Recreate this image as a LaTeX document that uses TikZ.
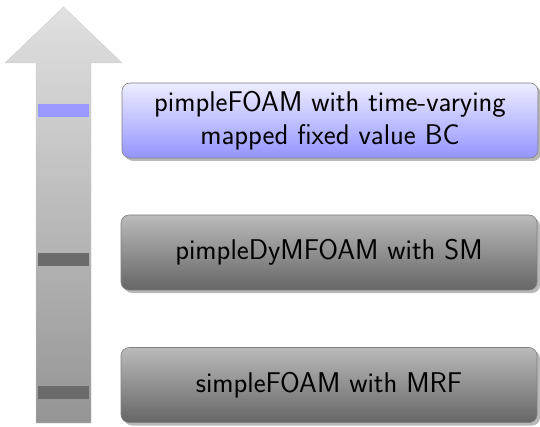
\documentclass[tikz,border=0pt]{standalone}
\usetikzlibrary{shadows}
\begin{document}
\begin{tikzpicture}[x=1pt,y=-1pt,
  stagebox/.style={draw=black!50, line width=0.6pt, rounded corners=8pt,
    minimum width=416pt, minimum height=75pt, align=center,
    font=\sffamily\fontsize{28.5}{33}\selectfont, text=black,
    drop shadow={shadow xshift=3pt, shadow yshift=-3pt, fill=black!28, opacity=1}},
  graybox/.style={stagebox, top color=black!27, bottom color=black!60},
  bluebox/.style={stagebox, top color=blue!7, bottom color=blue!42},
  band/.style={draw=none, inner sep=0pt, minimum width=51pt, minimum height=13pt}]
\useasboundingbox (0,0) rectangle (540,427);
\shade[top color=black!12, bottom color=black!42, draw=white!80!black, line width=0.4pt]
  (36,423) -- (36,63) -- (5,63) -- (63.5,7) -- (122,63) -- (91,63) -- (91,423) -- cycle;
\node[band, fill=blue!40] (b1) at (63.5,111) {};
\node[band, fill=black!58] (b2) at (63.5,259.5) {};
\node[band, fill=black!58] (b3) at (63.5,392) {};
\node[bluebox] (n1) at (330,120.5) {pimpleFOAM with time-varying\\mapped fixed value BC};
\node[graybox] (n2) at (329,252.5) {pimpleDyMFOAM with SM};
\node[graybox] (n3) at (329,385) {simpleFOAM with MRF};
\end{tikzpicture}
\end{document}
